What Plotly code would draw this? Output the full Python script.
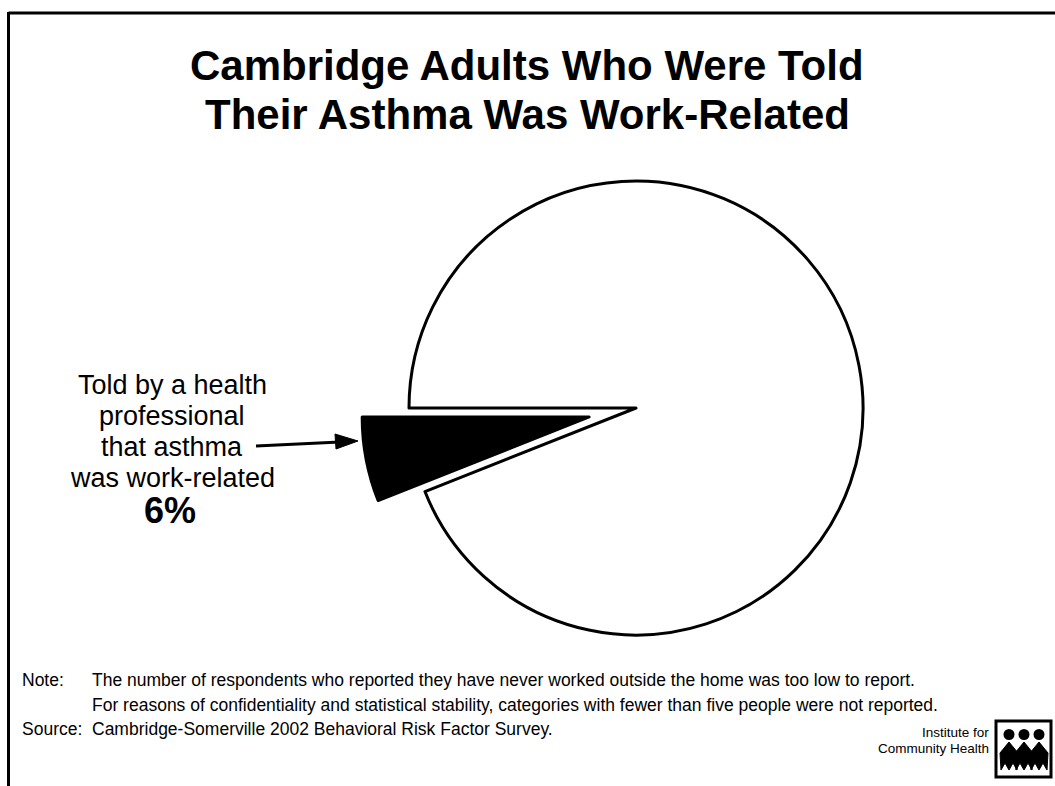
import plotly.graph_objects as go

W, H = 1055, 786

# Pie data
labels = ["Told by a health professional that asthma was work-related", "Other"]
values = [6, 94]
colors = ["#000000", "#ffffff"]
pulls = [0.21, 0]

title_lines = ["Cambridge Adults Who Were Told", "Their Asthma Was Work-Related"]
label_lines = ["Told by a health", "professional", "that asthma", "was work-related"]
label_value = f"{values[0]}%"
note_lines = [
    ("Note:", "The number of respondents who reported they have never worked outside the home was too low to report."),
    ("", "For reasons of confidentiality and statistical stability, categories with fewer than five people were not reported."),
    ("Source:", "Cambridge-Somerville 2002 Behavioral Risk Factor Survey."),
]
logo_lines = ["Institute for", "Community Health"]


def X(p):
    return p / W


def Y(p):
    return 1 - p / H


# pie placement (pixels): centre and radius of the unpulled disc
cx, cy, r = 636, 408, 227
half = r * (1 + max(pulls))

# first slice ends at 9 o'clock and opens downward
first_share = values[0] / sum(values)
rotation = 270 - 360 * first_share

fig = go.Figure(go.Pie(
    labels=labels,
    values=values,
    marker=dict(colors=colors, line=dict(color="#000000", width=3)),
    pull=pulls,
    sort=False,
    direction="clockwise",
    rotation=rotation,
    textinfo="none",
    hoverinfo="label+percent",
    showlegend=False,
    domain=dict(x=[X(cx - half), X(cx + half)], y=[Y(cy + half), Y(cy - half)]),
))

ann = []
sans = "Liberation Sans, Arial, Helvetica, sans-serif"

for txt, yy in zip(title_lines, [65, 114]):
    ann.append(dict(text=f"<b>{txt}</b>", x=X(527), y=Y(yy), xanchor="center", yanchor="middle",
                    font=dict(family=sans, size=42, color="#000")))

for txt, yy in zip(label_lines, [385, 416, 447, 478]):
    ann.append(dict(text=txt, x=X(172), y=Y(yy), xanchor="center", yanchor="middle",
                    font=dict(family=sans, size=27, color="#000")))
ann.append(dict(text=f"<b>{label_value}</b>", x=X(170), y=Y(511), xanchor="center", yanchor="middle",
                font=dict(family=sans, size=36, color="#000")))

for (lead, body), yy in zip(note_lines, [680, 705, 729]):
    if lead:
        ann.append(dict(text=lead, x=X(20), y=Y(yy), xanchor="left", yanchor="middle",
                        font=dict(family=sans, size=17.5, color="#000")))
    ann.append(dict(text=body, x=X(90), y=Y(yy), xanchor="left", yanchor="middle",
                    font=dict(family=sans, size=17.5, color="#000")))

for txt, yy in zip(logo_lines, [732, 748]):
    ann.append(dict(text=txt, x=X(991), y=Y(yy), xanchor="right", yanchor="middle",
                    font=dict(family=sans, size=13.5, color="#000")))

for a in ann:
    a.update(xref="paper", yref="paper", showarrow=False)

shapes = []
# frame
shapes.append(dict(type="line", x0=X(8.5), x1=X(1060), y0=Y(13), y1=Y(13),
                   line=dict(color="#000", width=3)))
shapes.append(dict(type="line", x0=X(8.5), x1=X(8.5), y0=Y(12), y1=Y(790),
                   line=dict(color="#000", width=3)))

# arrow pointing at the highlighted slice
shapes.append(dict(type="line", x0=X(256), y0=Y(446), x1=X(340), y1=Y(442),
                   line=dict(color="#000", width=3)))
shapes.append(dict(type="path",
                   path=f"M {X(358)},{Y(441)} L {X(335)},{Y(434)} L {X(336)},{Y(449)} Z",
                   fillcolor="#000", line=dict(color="#000", width=1)))

# logo box with three figures
shapes.append(dict(type="rect", x0=X(996), x1=X(1051), y0=Y(721), y1=Y(777),
                   line=dict(color="#000", width=3), fillcolor="#fff"))
for hx in [1009, 1024, 1039]:
    shapes.append(dict(type="circle", x0=X(hx - 5.5), x1=X(hx + 5.5), y0=Y(729), y1=Y(740),
                       fillcolor="#000", line=dict(color="#000", width=0)))
    pts = [(hx - 8, 770), (hx - 9, 753), (hx, 742), (hx + 9, 753), (hx + 8, 770),
           (hx + 4, 763), (hx, 770), (hx - 4, 763)]
    d = "M " + " L ".join(f"{X(a)},{Y(b)}" for a, b in pts) + " Z"
    shapes.append(dict(type="path", path=d, fillcolor="#000", line=dict(color="#000", width=1)))

fig.update_layout(
    width=W, height=H,
    margin=dict(l=0, r=0, t=0, b=0),
    paper_bgcolor="#ffffff",
    plot_bgcolor="#ffffff",
    annotations=ann,
    shapes=shapes,
)

fig.write_html("out.html")
